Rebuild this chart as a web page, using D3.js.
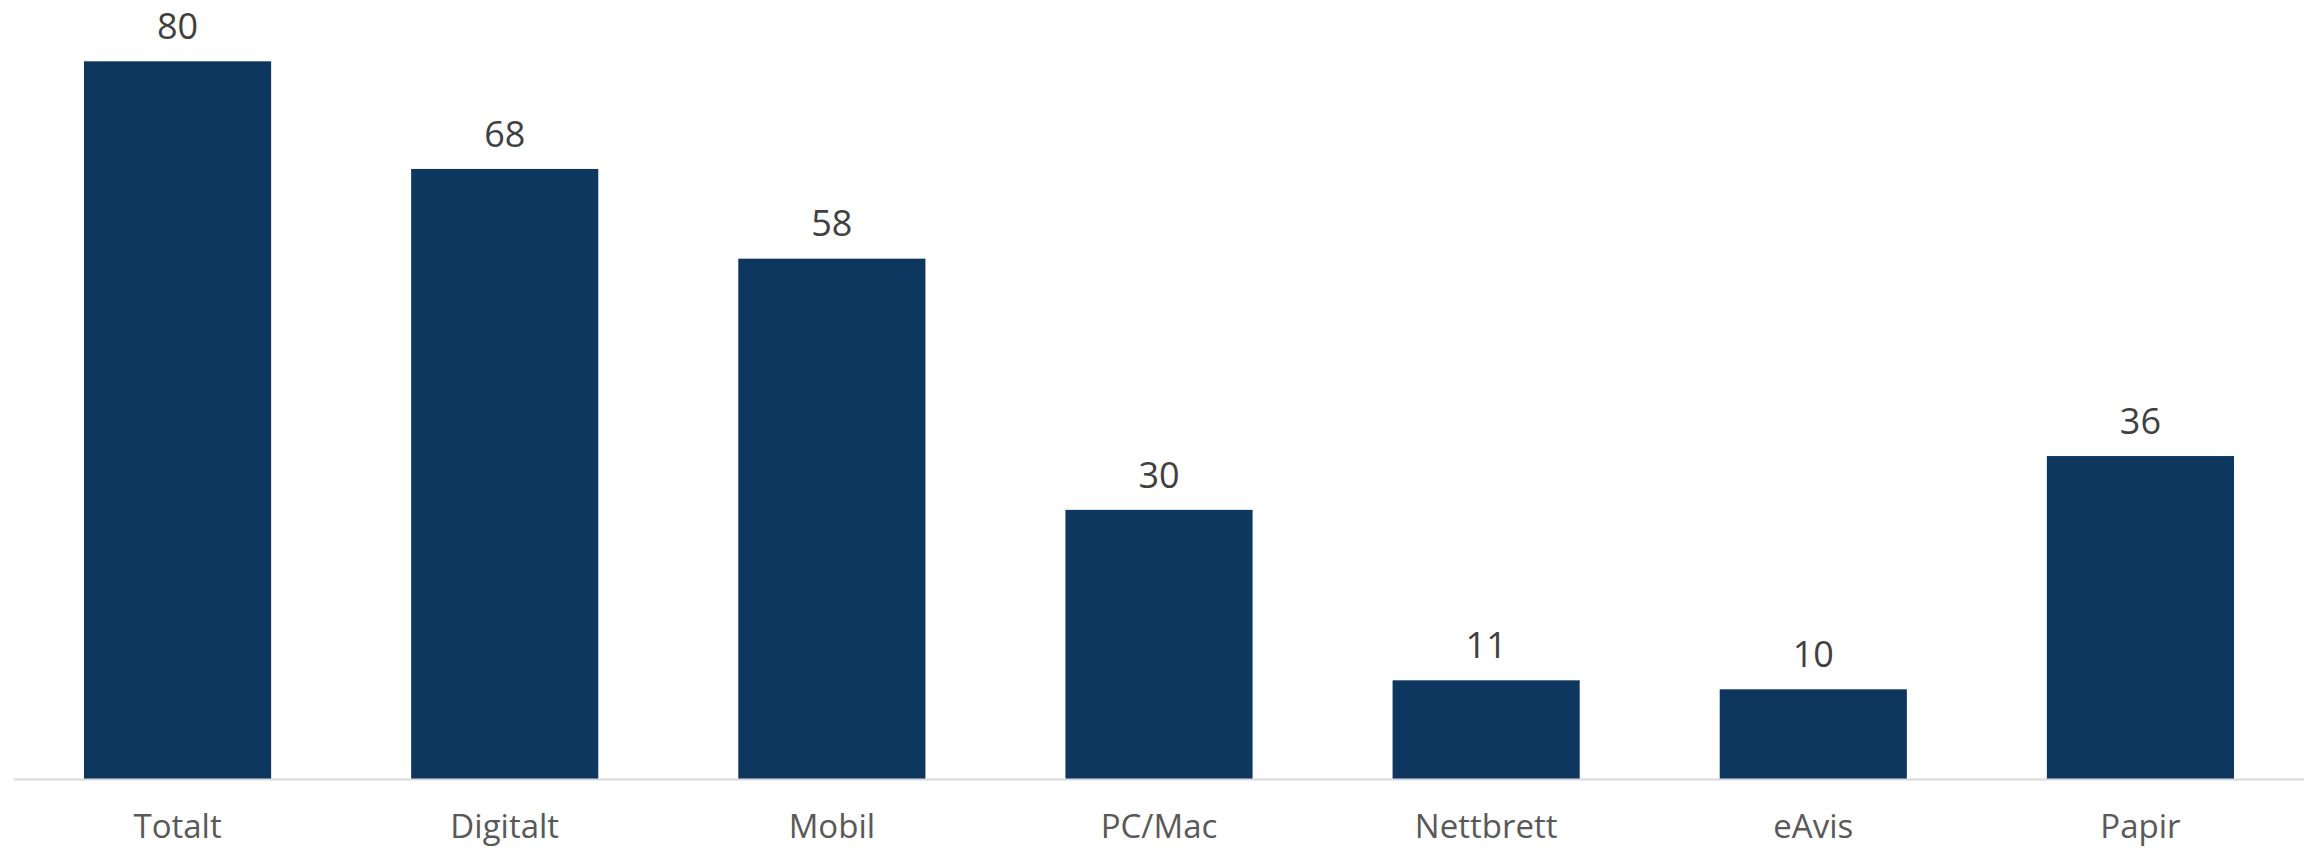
<!DOCTYPE html>
<html>
<head>
<meta charset="utf-8">
<script src="https://cdn.jsdelivr.net/npm/d3@7"></script>
<style>
html,body{margin:0;padding:0;background:#fff;}
svg{display:block;}
</style>
</head>
<body>
<svg id="chart" width="2310" height="848"></svg>
<script>
const categories = ["Totalt", "Digitalt", "Mobil", "PC/Mac", "Nettbrett", "eAvis", "Papir"];
const values = [80, 68, 58, 30, 11, 10, 36];

const svg = d3.select("#chart");
const x = d3.scaleBand().domain(categories).range([14, 2304]).paddingInner(0.428).paddingOuter(0.214);
const y = d3.scaleLinear().domain([0, 80]).range([779, 61.3]);

svg.selectAll("rect.bar").data(values).join("rect")
  .attr("class", "bar")
  .attr("x", (d, i) => x(categories[i]))
  .attr("y", d => y(d))
  .attr("width", x.bandwidth())
  .attr("height", d => y(0) - y(d))
  .attr("fill", "#0d375f");

svg.append("line")
  .attr("x1", 14).attr("x2", 2304)
  .attr("y1", y(0) + 0.5).attr("y2", y(0) + 0.5)
  .attr("stroke", "#d9d9d9").attr("stroke-width", 2);

svg.selectAll("text.val").data(values).join("text")
  .attr("class", "val")
  .attr("x", (d, i) => x(categories[i]) + x.bandwidth() / 2)
  .attr("y", d => y(d) - 22.3)
  .attr("text-anchor", "middle")
  .attr("font-family", "Open Sans")
  .attr("font-size", 36)
  .attr("fill", "#404040")
  .text(d => d);

const xAxis = d3.axisBottom(x).tickSize(0).tickPadding(0);
const g = svg.append("g").attr("transform", `translate(0, 838)`).call(xAxis);
g.select(".domain").remove();
g.selectAll("text")
  .attr("dy", 0)
  .attr("y", 0)
  .attr("font-family", "Open Sans")
  .attr("font-size", 33)
  .attr("fill", "#595959");
</script>
</body>
</html>
